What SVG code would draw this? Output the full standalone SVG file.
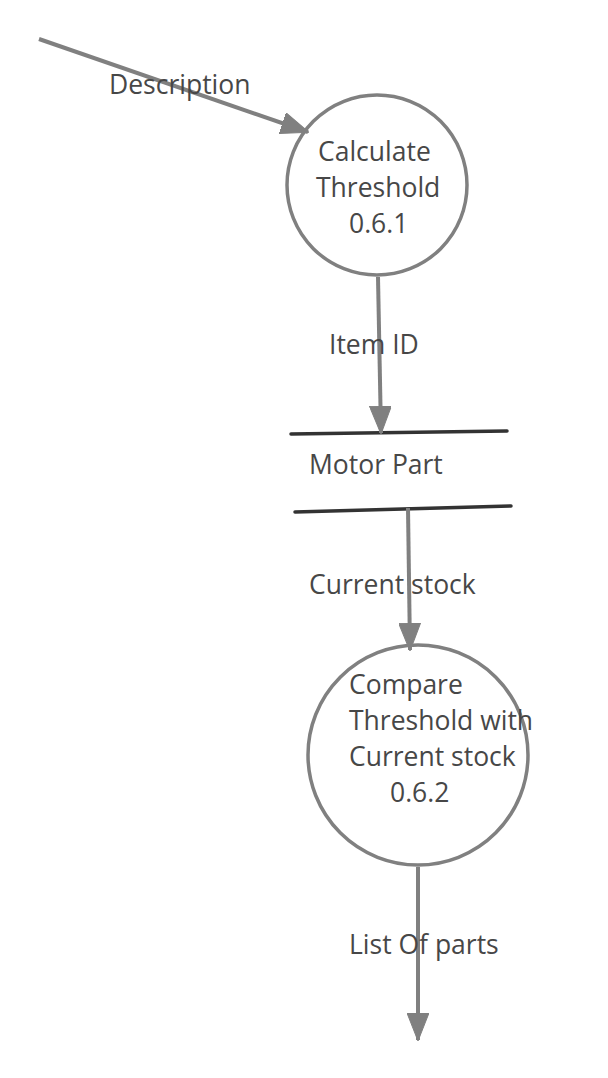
<svg xmlns="http://www.w3.org/2000/svg" width="608" height="1078" viewBox="0 0 608 1078">
<defs>
<marker id="arr" viewBox="0 0 28 22" refX="27" refY="11" markerWidth="28" markerHeight="22" markerUnits="userSpaceOnUse" orient="auto">
<path d="M0,0 L28,11 L0,22 Z" fill="#808080" stroke="#808080" stroke-width="1" stroke-linejoin="round"/>
</marker>
<style>
.t{font-family:"Open Sans","Noto Sans",sans-serif;font-size:26.5px;fill:#474747}
.proc{fill:#fff;stroke:#808080;stroke-width:3.5}
.flow{fill:none;stroke:#808080;stroke-width:4}
.store{stroke:#333;stroke-width:3.5;stroke-linecap:round}
</style>
</defs>
<rect width="608" height="1078" fill="#fff"/>
<g id="p061">
<circle class="proc" cx="377" cy="185" r="90"/>
<text class="t" x="318" y="161">Calculate</text>
<text class="t" x="316" y="197">Threshold</text>
<text class="t" x="349" y="233">0.6.1</text>
</g>
<g id="motor-part">
<line class="store" x1="291" y1="434" x2="507" y2="431"/>
<line class="store" x1="295" y1="512" x2="511" y2="506"/>
<text class="t" x="309" y="474">Motor Part</text>
</g>
<g id="p062">
<circle class="proc" cx="418" cy="755" r="110"/>
<text class="t" x="349" y="694">Compare</text>
<text class="t" x="349" y="730">Threshold with</text>
<text class="t" x="349" y="766">Current stock</text>
<text class="t" x="390" y="802">0.6.2</text>
</g>
<g id="connectors">
<line class="flow" x1="39" y1="39" x2="308" y2="132" marker-end="url(#arr)"/>
<line class="flow" x1="378" y1="277" x2="381" y2="433" marker-end="url(#arr)"/>
<line class="flow" x1="408" y1="508" x2="410" y2="650" marker-end="url(#arr)"/>
<line class="flow" x1="418" y1="867" x2="418" y2="1040" marker-end="url(#arr)"/>
<text class="t" x="109" y="94">Description</text>
<text class="t" x="329" y="354">Item ID</text>
<text class="t" x="309" y="594">Current stock</text>
<text class="t" x="349" y="954">List Of parts</text>
</g>
</svg>
